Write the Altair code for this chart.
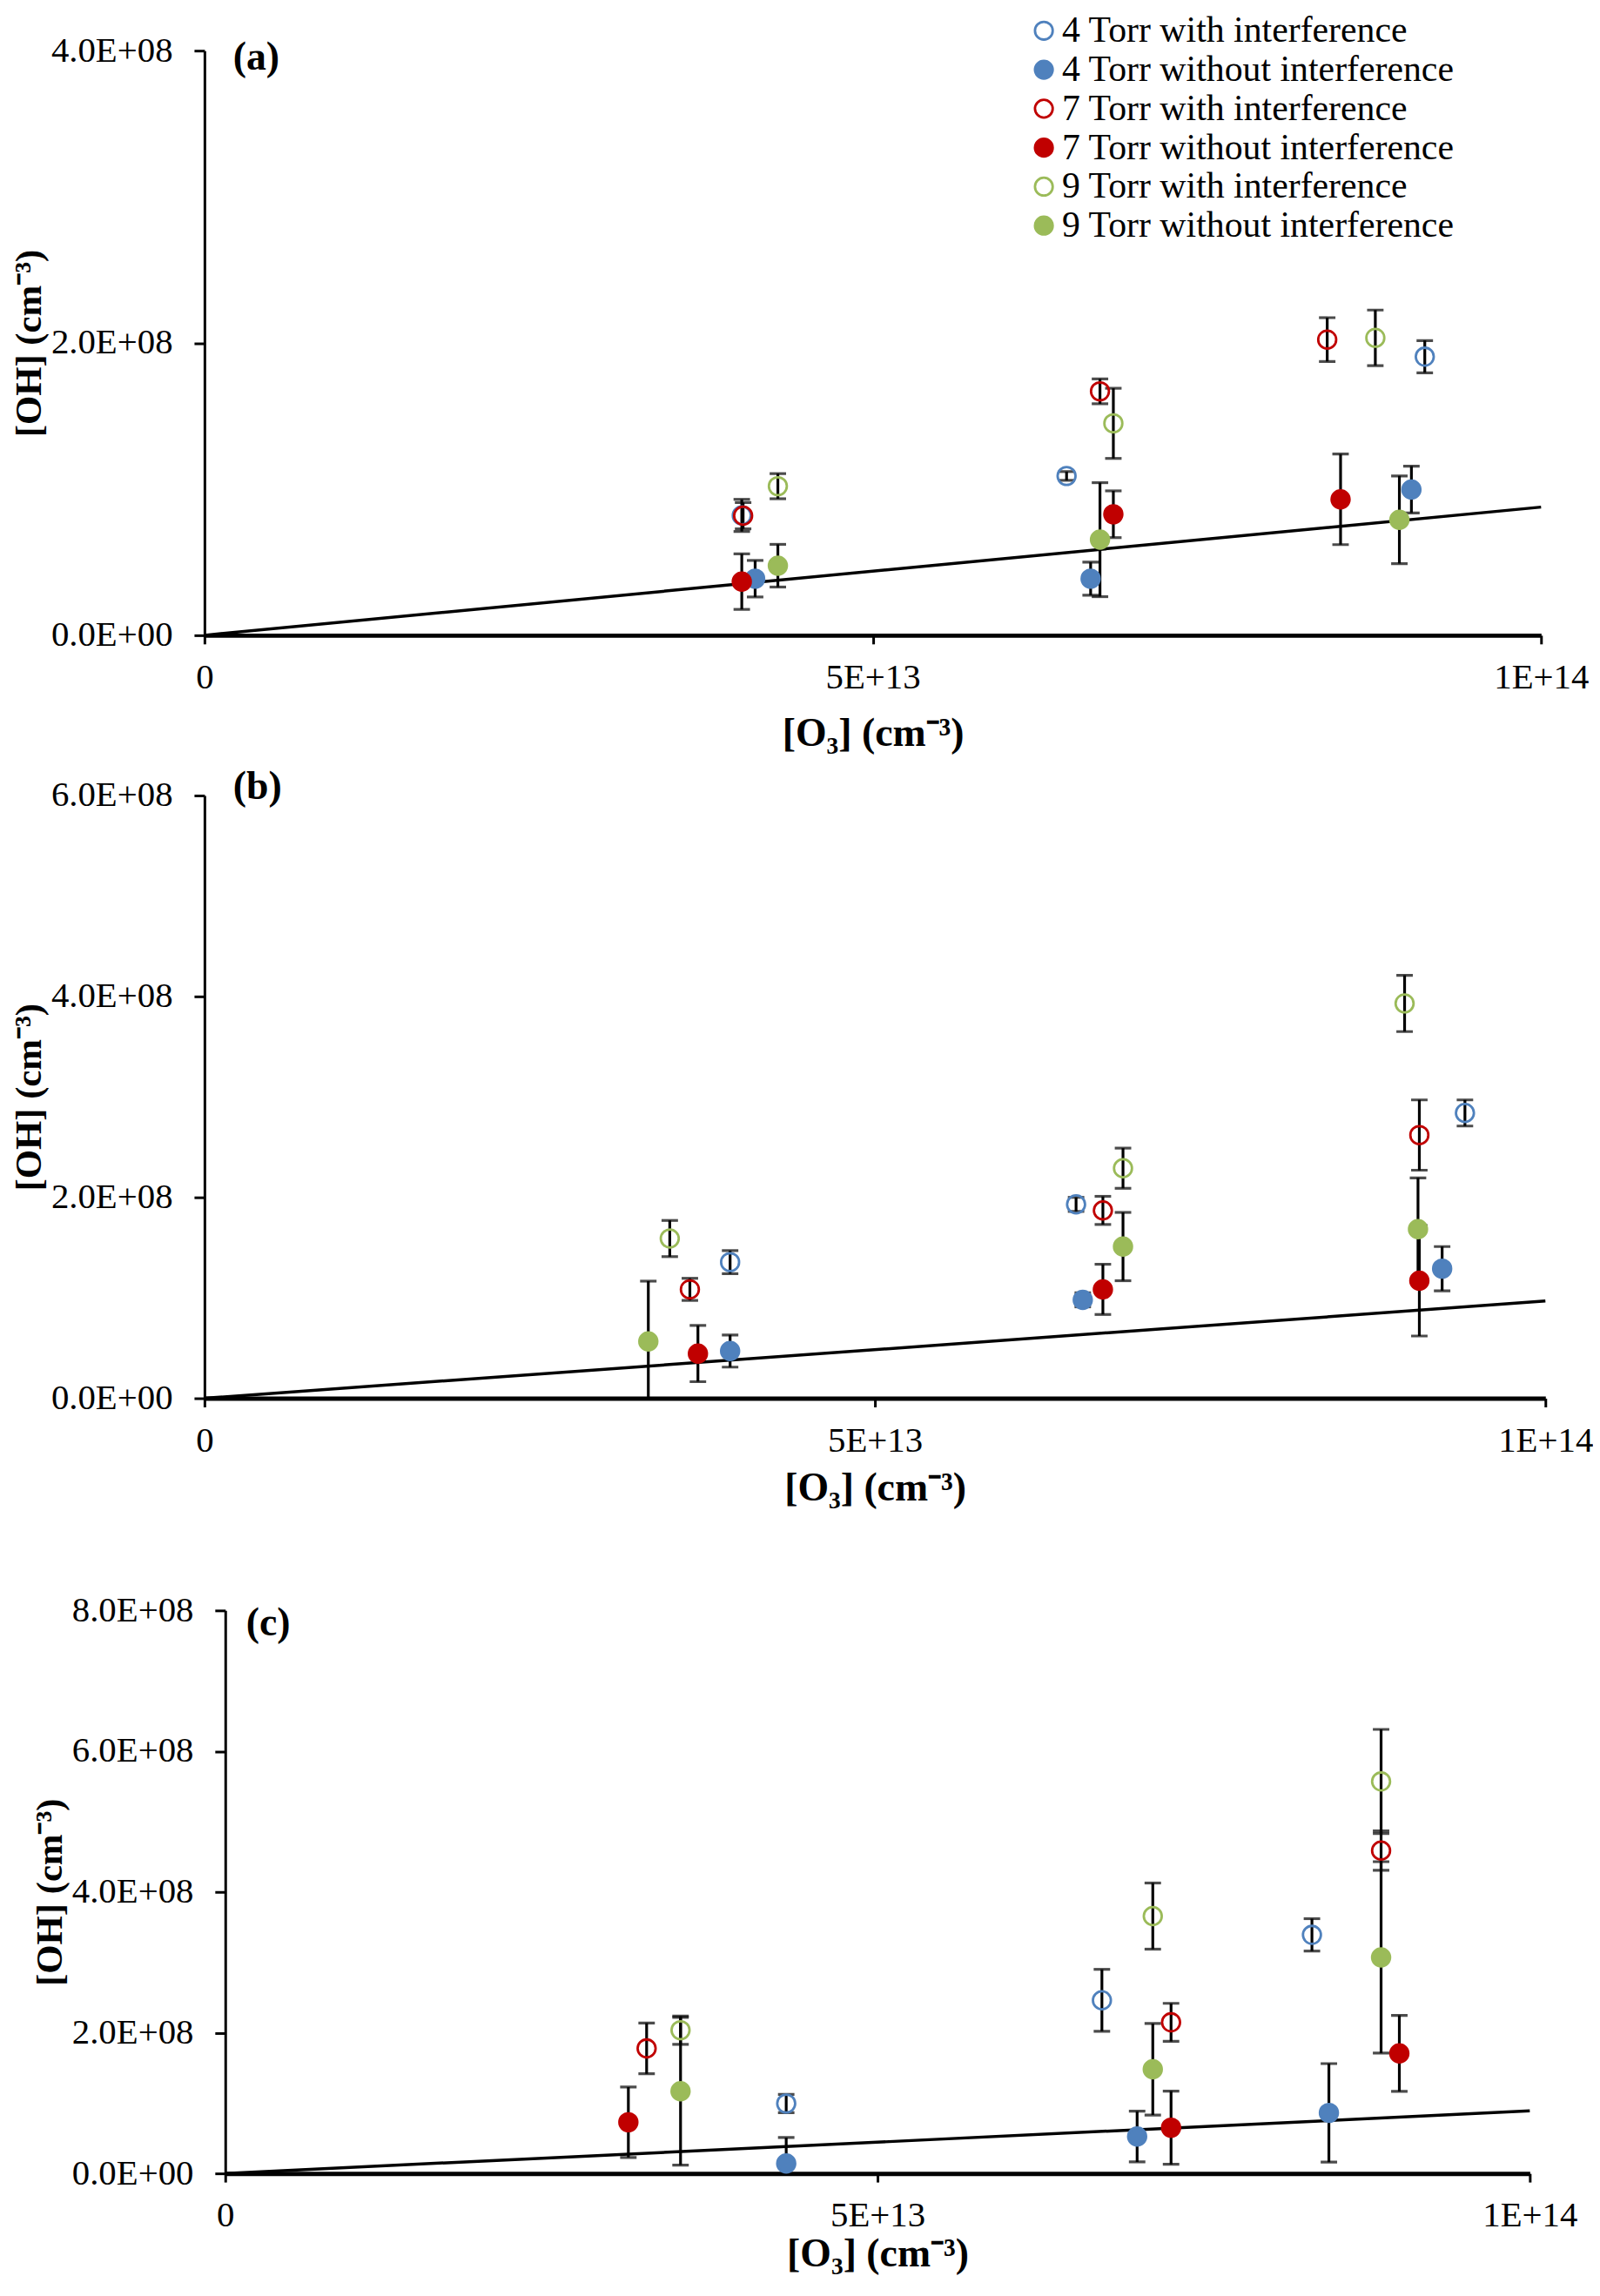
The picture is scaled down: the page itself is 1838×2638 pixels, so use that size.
import altair as alt
import pandas as pd

FONT = "Liberation Serif"

SERIES = [
    "4 Torr with interference",
    "4 Torr without interference",
    "7 Torr with interference",
    "7 Torr without interference",
    "9 Torr with interference",
    "9 Torr without interference",
]
STROKES = ["#4F81BD", "#4F81BD", "#C00000", "#C00000", "#9BBB59", "#9BBB59"]
FILLS = ["transparent", "#4F81BD", "transparent", "#C00000", "transparent", "#9BBB59"]

X_TICKS = [0, 5e13, 1e14]

# three points per series, in SERIES order; o3 in 1e13 cm-3, oh and err in 1e8 cm-3
a_o3 = [4.02, 6.45, 9.13, 4.12, 6.63, 9.03, 4.03, 6.70, 8.40,
        4.02, 6.80, 8.50, 4.29, 6.80, 8.76, 4.29, 6.70, 8.94]
a_oh = [0.82, 1.09, 1.906, 0.387, 0.387, 0.997, 0.818, 1.669, 2.023,
        0.367, 0.828, 0.93, 1.02, 1.45, 2.035, 0.476, 0.654, 0.79]
a_err = [0.11, 0.03, 0.11, 0.125, 0.113, 0.16, 0.09, 0.085, 0.15,
         0.19, 0.16, 0.31, 0.086, 0.24, 0.19, 0.146, 0.39, 0.30]
a_fit_end = 0.877
a_yticks = [0, 2e8, 4e8]

b_o3 = [3.92, 6.50, 9.40, 3.92, 6.55, 9.23, 3.62, 6.70, 9.06,
        3.68, 6.70, 9.06, 3.47, 6.85, 8.95, 3.31, 6.85, 9.05]
b_oh = [1.355, 1.93, 2.84, 0.47, 0.98, 1.29, 1.084, 1.87, 2.62,
        0.445, 1.084, 1.17, 1.59, 2.29, 3.93, 0.566, 1.51, 1.684]
b_err = [0.115, 0.07, 0.13, 0.16, 0.07, 0.22, 0.11, 0.14, 0.35,
         0.28, 0.25, 0.55, 0.18, 0.20, 0.28, 0.60, 0.34, 0.51]
b_fit_end = 0.968
b_yticks = [0, 2e8, 4e8, 6e8]

c_o3 = [4.30, 6.72, 8.33, 4.30, 6.99, 8.46, 3.23, 7.25, 8.86,
        3.09, 7.25, 9.00, 3.49, 7.11, 8.86, 3.49, 7.11, 8.86]
c_oh = [0.993, 2.46, 3.39, 0.14, 0.524, 0.86, 1.776, 2.147, 4.587,
        0.727, 0.65, 1.706, 2.035, 3.657, 5.57, 1.168, 1.48, 3.07]
c_err = [0.13, 0.44, 0.23, 0.37, 0.36, 0.70, 0.36, 0.27, 0.28,
         0.50, 0.52, 0.54, 0.20, 0.47, 0.74, 1.05, 0.65, 1.36]
c_fit_end = 0.888
c_yticks = [0, 2e8, 4e8, 6e8, 8e8]


def panel(o3, oh, err, fit_end, yticks, tag, tag_xy, size, shift, pad, title_pad, legend):
    w, h = size
    left, top, bottom = pad
    pts = pd.DataFrame({
        "series": [s for s in SERIES for _ in range(3)],
        "o3": [v * 1e13 for v in o3],
        "oh": [v * 1e8 for v in oh],
        "lo": [(v - e) * 1e8 for v, e in zip(oh, err)],
        "hi": [(v + e) * 1e8 for v, e in zip(oh, err)],
    })
    fit = pd.DataFrame({"o3": [0, 1e14], "oh": [0, fit_end * 1e8]})

    xs = alt.Scale(domain=[0, 1e14], nice=False, range=[shift, shift + w])
    ys = alt.Scale(domain=[0, yticks[-1]], nice=False)
    xa = alt.Axis(
        values=X_TICKS, title="[O₃] (cm⁻³)", titleFontSize=46,
        labelExpr="datum.value == 0 ? '0' : upper(format(datum.value, '.0e'))",
        labelFlush=False, labelOverlap=False, tickSize=10, labelPadding=19,
        domainWidth=5, tickWidth=3, titlePadding=title_pad,
    )
    ya = alt.Axis(
        values=yticks, title="[OH] (cm⁻³)", titleFontSize=43, offset=-shift,
        labelExpr="replace(upper(format(datum.value, '.1e')), '+', '+0')",
        labelOverlap=False, tickSize=12, labelPadding=25,
        domainWidth=3, tickWidth=3, titlePadding=3,
    )

    def X(f):
        return alt.X(f, scale=xs, axis=xa)

    def Y(f):
        return alt.Y(f, scale=ys, axis=ya)

    # invisible rule that fixes how much room the panel takes round its plot
    spacer = alt.Chart(fit).mark_rule(opacity=0, strokeWidth=1).encode(
        x=alt.value(-left), y=alt.value(-top), y2=alt.value(h + bottom)
    )
    line = alt.Chart(fit).mark_line(color="black", strokeWidth=3.5).encode(x=X("o3:Q"), y=Y("oh:Q"))
    bars = alt.Chart(pts).mark_rule(color="black", strokeWidth=3.2, clip=True).encode(
        x=X("o3:Q"), y=Y("lo:Q"), y2="hi:Q"
    )
    cap_lo = alt.Chart(pts).mark_tick(orient="horizontal", color="black", size=19,
                                      thickness=3.2, clip=True).encode(x=X("o3:Q"), y=Y("lo:Q"))
    cap_hi = alt.Chart(pts).mark_tick(orient="horizontal", color="black", size=19,
                                      thickness=3.2, clip=True).encode(x=X("o3:Q"), y=Y("hi:Q"))
    points = alt.Chart(pts).mark_point(filled=True, shape="circle", size=430,
                                       strokeWidth=2.8, opacity=1).encode(
        x=X("o3:Q"),
        y=Y("oh:Q"),
        stroke=alt.Stroke("series:N", title=None,
                          scale=alt.Scale(domain=SERIES, range=STROKES), legend=legend),
        fill=alt.Fill("series:N", title=None,
                      scale=alt.Scale(domain=SERIES, range=FILLS), legend=legend),
    )
    label = alt.Chart(pd.DataFrame({"t": [tag]})).mark_text(
        font=FONT, fontSize=46, fontWeight="bold", align="left", baseline="middle", color="black"
    ).encode(x=alt.value(tag_xy[0] + shift), y=alt.value(tag_xy[1]), text="t:N")

    return alt.layer(spacer, line, bars, cap_lo, cap_hi, points, label).properties(
        width=w + shift, height=h
    )


legend_a = alt.Legend(
    orient="none", legendX=948, legendY=-44, padding=0,
    labelFont=FONT, labelFontSize=42, labelColor="black", labelLimit=0,
    symbolType="circle", symbolSize=420, symbolStrokeWidth=2.8,
    rowPadding=3, labelOffset=0,
)

pa = panel(a_o3, a_oh, a_err, a_fit_end, a_yticks, "(a)", (33, 8),
           (1543, 675), 0, (228, 44, 140), 22, legend_a)
pb = panel(b_o3, b_oh, b_err, b_fit_end, b_yticks, "(b)", (33, -10),
           (1548, 696), 0, (228, 45, 134), 13, None)
pc = panel(c_o3, c_oh, c_err, c_fit_end, c_yticks, "(c)", (24, 15),
           (1506, 650), 24, (180, 111, 0), 2, None)

chart = (
    alt.vconcat(pa, pb, pc, spacing=0)
    .resolve_scale(x="independent", y="independent", stroke="independent", fill="independent")
    .properties(padding={"left": 0, "top": 0, "right": 0, "bottom": 0})
    .configure_view(stroke=None)
    .configure_axis(
        labelFont=FONT, labelFontSize=41, labelColor="black",
        titleFont=FONT, titleFontWeight="bold", titleColor="black",
        domainColor="black", tickColor="black", grid=False,
    )
)

chart.save("out.html", embed_options={"renderer": "svg", "actions": False})
